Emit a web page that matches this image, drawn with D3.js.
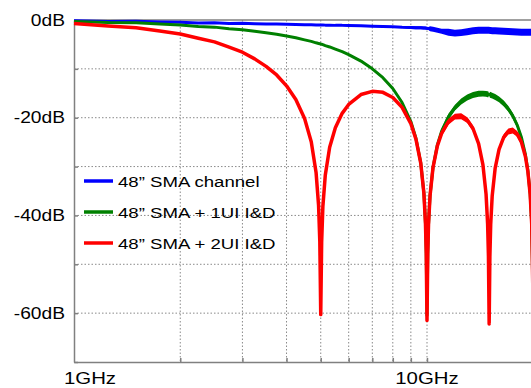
<!DOCTYPE html>
<html>
<head>
<meta charset="utf-8">
<script src="https://cdn.jsdelivr.net/npm/d3@7"></script>
<style>
  body { margin: 0; background: #fff; }
  svg { display: block; }
  text { font-family: "Liberation Sans", Arial, sans-serif; fill: #000; }
</style>
</head>
<body>
<svg id="chart" width="531" height="388"></svg>
<script>
// frequency grid, GHz
var freqGHz = [1, 1.25, 1.5, 1.75, 2, 2.25, 2.5, 2.75, 3, 3.25, 3.5, 3.75, 4, 4.25, 4.5, 4.7, 4.85, 4.93, 4.97, 5,
  5.03, 5.07, 5.15, 5.3, 5.5, 5.75, 6, 6.5, 7, 7.5, 8, 8.5, 9, 9.3, 9.6, 9.8, 9.9, 9.95, 10,
  10.05, 10.1, 10.2, 10.4, 10.7, 11, 11.5, 12, 12.5, 13, 13.5, 14, 14.4, 14.7, 14.85, 14.93, 15,
  15.07, 15.15, 15.3, 15.6, 16, 16.5, 17, 17.5, 18, 18.5, 19, 19.3, 19.6, 19.8, 20];

// 48" SMA channel, dB
var channelDb = [-0.15, -0.3, -0.25, -0.4, -0.45, -0.6, -0.55, -0.7, -0.65, -0.75, -0.8, -0.8, -0.85, -0.9, -0.95, -0.95, -1, -1, -1, -1,
  -1, -1, -1.05, -1.05, -1.1, -1.1, -1.15, -1.2, -1.3, -1.35, -1.4, -1.5, -1.55, -1.6, -1.6, -1.65, -1.65, -1.7, -1.7,
  -1.75, -1.75, -1.8, -1.9, -2.1, -2.3, -2.5, -2.7, -2.6, -2.4, -2.2, -2.1, -2.1, -2.1, -2.1, -2.1, -2.1,
  -2.15, -2.15, -2.2, -2.2, -2.25, -2.3, -2.35, -2.4, -2.45, -2.5, -2.5, -2.5, -2.5, -2.5, -2.5];

// 48" SMA + 1UI I&D, dB
var oneUiDb = [-0.29, -0.52, -0.57, -0.84, -1.03, -1.34, -1.46, -1.81, -1.98, -2.32, -2.63, -2.91, -3.27, -3.65, -4.07, -4.37, -4.67, -4.8, -4.86, -4.92,
  -4.98, -5.04, -5.24, -5.52, -5.96, -6.48, -7.09, -8.41, -9.99, -11.8, -14.02, -16.89, -20.78, -24.14, -29.23, -35.46, -41.56, -47.68, -60.5,
  -47.81, -41.84, -35.96, -30.13, -25.56, -22.77, -19.81, -17.94, -16.69, -15.86, -15.35, -15.1, -15.07, -15.13, -15.19, -15.23, -15.26,
  -15.3, -15.36, -15.47, -15.76, -16.26, -17.09, -18.19, -19.61, -21.46, -23.94, -27.52, -30.68, -35.63, -41.72, -60];

// 48" SMA + 2UI I&D, dB
var twoUiDb = [-0.73, -1.21, -1.58, -2.23, -2.87, -3.72, -4.47, -5.56, -6.59, -7.96, -9.49, -11.25, -13.47, -16.29, -20.18, -24.9, -31.21, -37.96, -45.38, -60.3,
  -45.49, -38.2, -31.78, -26.04, -22.07, -19.11, -17.29, -15.26, -14.6, -14.81, -15.86, -17.89, -21.21, -24.35, -29.3, -35.48, -41.57, -47.68, -61.5,
  -47.82, -41.84, -35.98, -30.19, -25.77, -23.21, -20.82, -19.78, -19.7, -20.48, -22.21, -25.3, -29.61, -35.65, -41.72, -48.38, -62.2,
  -48.46, -41.9, -36, -30.31, -26.46, -23.95, -22.81, -22.62, -23.3, -24.95, -27.95, -30.89, -35.69, -41.74, -60];

// measurement noise half-width, dB
var channelNoise = [0.1, 0.1, 0.1, 0.1, 0.1, 0.1, 0.1, 0.1, 0.1, 0.1, 0.1, 0.1, 0.1, 0.1, 0.1,
  0.15, 0.15, 0.15, 0.15, 0.15, 0.15, 0.15, 0.15, 0.15, 0.15, 0.15, 0.15, 0.15, 0.15, 0.15, 0.15, 0.15,
  0.3, 0.3, 0.3, 0.3, 0.3, 0.3, 0.3, 0.3, 0.3,
  0.5, 0.5, 0.5, 0.5,
  0.7, 0.7, 0.7, 0.7, 0.7, 0.7, 0.7, 0.7, 0.7, 0.7, 0.7, 0.7, 0.7, 0.7, 0.7, 0.7, 0.7, 0.7, 0.7, 0.7, 0.7, 0.7, 0.7, 0.7, 0.7, 0.7];
var filterNoise = [0.1, 0.1, 0.1, 0.1, 0.1, 0.1, 0.1, 0.1, 0.1, 0.1, 0.1, 0.1, 0.1, 0.1, 0.1, 0.1, 0.1, 0.1, 0.1, 0,
  0.1, 0.1, 0.1, 0.1, 0.1, 0.1, 0.2, 0.2, 0.2, 0.2, 0.2, 0.35, 0.35, 0.35, 0.35, 0.35, 0.35, 0.35, 0,
  0.6, 0.6, 0.6, 0.6, 0.6, 0.6, 0.6, 0.6, 0.6, 0.6, 0.6, 0.6, 0.6, 0.6, 0.6, 0.6, 0,
  0.6, 0.6, 0.6, 0.6, 0.6, 0.6, 0.6, 0.6, 0.6, 0.6, 0.6, 0.6, 0.6, 0.6, 0];

var seriesNames = ["48\u201D SMA channel", "48\u201D SMA + 1UI I&D", "48\u201D SMA + 2UI I&D"];
var seriesColors = ["#0000ff", "#008000", "#ff0000"];

var yTickValues = [0, -10, -20, -30, -40, -50, -60, -70];
var yLabelValues = [0, -20, -40, -60];
var xGridValues = [2, 3, 4, 5, 6, 7, 8, 9, 10, 20];
var xLabelValues = [1, 10];

var PLOT = { left: 74, top: 20, bottom: 362, right: 531 };
var TEXT_STRETCH = 1.2;  // reference text is a bit wider than the font

function addText(g, x, y, str, size, anchor) {
    return g.append("text")
        .attr("transform", "translate(" + x + "," + y + ") scale(" + TEXT_STRETCH + ",1)")
        .attr("text-anchor", anchor)
        .style("font-size", size + "px")
        .text(str);
}

function buildChart() {
    var svg = d3.select("#chart");

    var x = d3.scaleLog().domain([1, 20])
        .range([PLOT.left, PLOT.left + 353 * Math.log10(20)]);
    var y = d3.scaleLinear().domain([-70, 0]).range([PLOT.bottom, PLOT.top]);

    // grid
    var grid = svg.append("g")
        .attr("stroke", "#8a8a8a")
        .attr("stroke-width", 1)
        .attr("stroke-dasharray", "1.5,2");
    grid.selectAll(".hgrid")
        .data(yTickValues.filter(function(v) { return v < 0 && v > -70; }))
        .enter().append("line")
        .attr("x1", PLOT.left).attr("x2", PLOT.right)
        .attr("y1", function(d) { return y(d); })
        .attr("y2", function(d) { return y(d); });
    grid.selectAll(".vgrid")
        .data(xGridValues)
        .enter().append("line")
        .attr("y1", PLOT.top).attr("y2", PLOT.bottom)
        .attr("x1", function(d) { return x(d); })
        .attr("x2", function(d) { return x(d); });

    // frame: top border
    svg.append("line")
        .attr("x1", PLOT.left).attr("x2", PLOT.right)
        .attr("y1", PLOT.top).attr("y2", PLOT.top)
        .attr("stroke", "#808080").attr("stroke-width", 1.5);

    var yAxis = svg.append("g")
        .attr("transform", "translate(" + PLOT.left + ",0)")
        .call(d3.axisLeft(y).tickValues(yTickValues).tickSizeInner(-4).tickSizeOuter(0).tickFormat(""));
    var xAxis = svg.append("g")
        .attr("transform", "translate(0," + PLOT.bottom + ")")
        .call(d3.axisBottom(x).tickValues(xGridValues).tickSizeInner(-4).tickSizeOuter(0).tickFormat(""));
    [yAxis, xAxis].forEach(function(a) {
        a.selectAll("path, line").attr("stroke", "#808080").attr("stroke-width", 1.5);
    });

    yLabelValues.forEach(function(v) {
        addText(svg, PLOT.left - 9, y(v) + 5.5, v + "dB", 16, "end");
    });
    xLabelValues.forEach(function(v, i) {
        var px = i === 0 ? x(v) + 16 : x(v);
        addText(svg, px, 384, v + "GHz", 17, "middle");
    });

    // curves
    var curves = [channelDb, oneUiDb, twoUiDb];
    var noises = [channelNoise, filterNoise, filterNoise];
    var widths = [3, 3, 3.5];
    curves.forEach(function(vals, k) {
        var pts = freqGHz.map(function(f, i) { return { f: f, v: vals[i], n: noises[k][i] }; });
        var band = d3.area()
            .x(function(d) { return x(d.f); })
            .y0(function(d) { return y(d.v - d.n); })
            .y1(function(d) { return y(d.v + d.n); });
        var line = d3.line()
            .x(function(d) { return x(d.f); })
            .y(function(d) { return y(d.v); });
        svg.append("path")
            .datum(pts)
            .attr("d", band)
            .attr("fill", seriesColors[k]);
        svg.append("path")
            .datum(pts)
            .attr("d", line)
            .attr("fill", "none")
            .attr("stroke", seriesColors[k])
            .attr("stroke-width", widths[k])
            .attr("stroke-linejoin", "round");
    });

    // legend
    var legendY = [181, 212, 243];
    seriesNames.forEach(function(name, k) {
        svg.append("line")
            .attr("x1", 84).attr("x2", 113)
            .attr("y1", legendY[k]).attr("y2", legendY[k])
            .attr("stroke", seriesColors[k])
            .attr("stroke-width", 3.5);
        addText(svg, 118, legendY[k] + 5.5, name, 15.5, "start");
    });
}

buildChart();
</script>
</body>
</html>
